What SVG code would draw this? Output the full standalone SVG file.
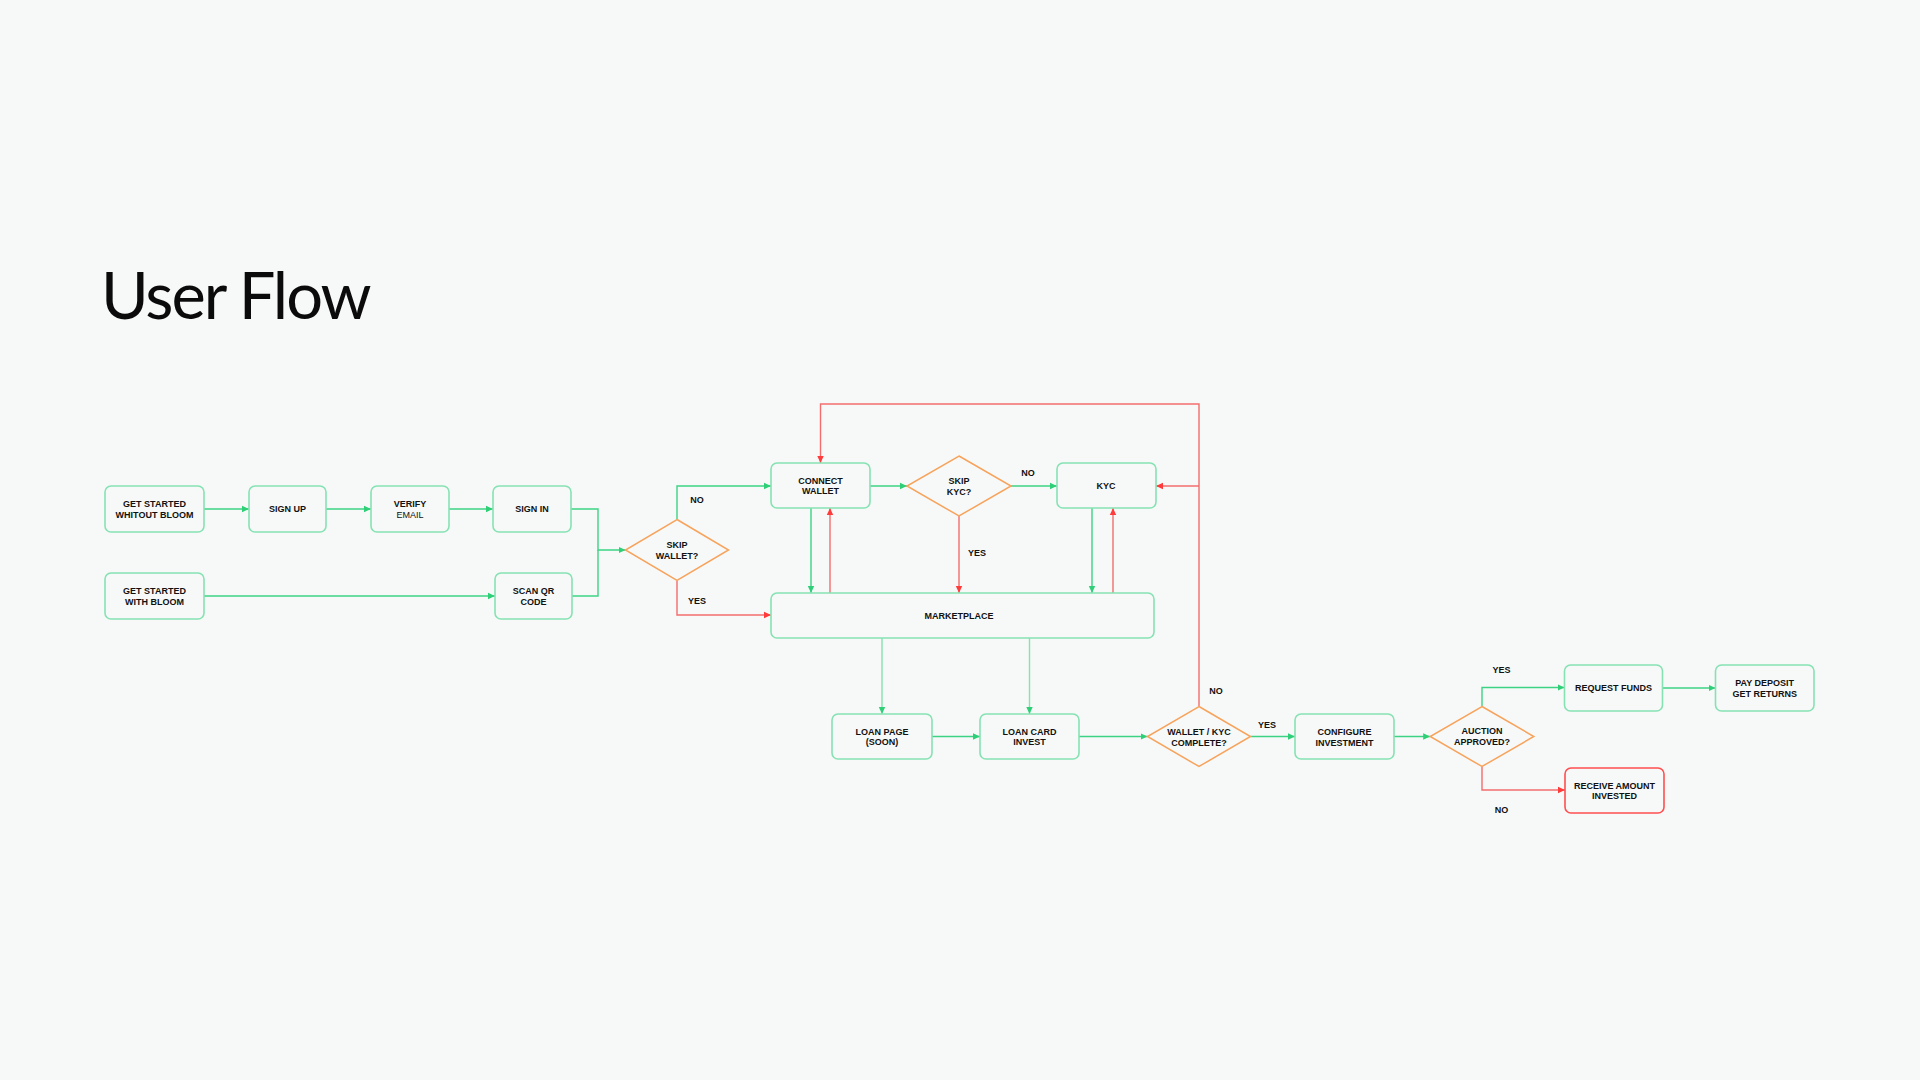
<svg xmlns="http://www.w3.org/2000/svg" width="1920" height="1080" viewBox="0 0 1920 1080">
<defs>
<style>
.bg{fill:#f7f9f8}
.node rect{fill:#f7f9f8;stroke:#86e2b3;stroke-width:1.6}
.node.red rect{stroke:#ff4f4f}
.dia polygon{fill:#f7f9f8;stroke:#f8a35c;stroke-width:1.5}
.t{font-family:"Liberation Sans",Arial,sans-serif;font-weight:bold;font-size:9px;fill:#111;text-anchor:middle}
.tn{font-weight:normal}
.lbl{font-family:"Liberation Sans",Arial,sans-serif;font-weight:bold;font-size:9px;fill:#111;text-anchor:middle}
.g{fill:none;stroke:#3dd384;stroke-width:1.4}
.gl{fill:none;stroke:#86e2b3;stroke-width:1.4}
.r{fill:none;stroke:#f36d6d;stroke-width:1.4}
.title{font-family:Lato,"Open Sans",sans-serif;font-size:65px;letter-spacing:-2px;fill:#0b0b0b}
</style>
<marker id="ag" markerUnits="userSpaceOnUse" markerWidth="8" markerHeight="8" refX="7" refY="4" orient="auto"><path d="M0,0.8 L7,4 L0,7.2 Z" fill="#2fcf78"/></marker>
<marker id="ar" markerUnits="userSpaceOnUse" markerWidth="8" markerHeight="8" refX="7" refY="4" orient="auto"><path d="M0,0.8 L7,4 L0,7.2 Z" fill="#ff3b3b"/></marker>
</defs>
<rect class="bg" x="0" y="0" width="1920" height="1080"/>
<text class="title" x="101" y="319">User Flow</text>

<g id="connectors">
<path class="g" d="M204 509 H249" marker-end="url(#ag)"/>
<path class="g" d="M326 509 H371" marker-end="url(#ag)"/>
<path class="g" d="M449 509 H493" marker-end="url(#ag)"/>
<path class="g" d="M204 596 H495" marker-end="url(#ag)"/>
<path class="g" d="M571 509 H598 V550 H625.5" marker-end="url(#ag)"/>
<path class="g" d="M572 596 H598 V550"/>
<path class="g" d="M677 519.5 V486 H771" marker-end="url(#ag)"/>
<path class="r" d="M677 580.5 V615 H771" marker-end="url(#ar)"/>
<path class="g" d="M870 486 H907" marker-end="url(#ag)"/>
<path class="g" d="M1011 486 H1057" marker-end="url(#ag)"/>
<path class="r" d="M959 516 V593" marker-end="url(#ar)"/>
<path class="g" d="M811 508 V593" marker-end="url(#ag)"/>
<path class="r" d="M830 593 V508" marker-end="url(#ar)"/>
<path class="g" d="M1092 508 V593" marker-end="url(#ag)"/>
<path class="r" d="M1113 593 V508" marker-end="url(#ar)"/>
<path class="gl" d="M882 638 V714" marker-end="url(#ag)"/>
<path class="gl" d="M1029.5 638 V714" marker-end="url(#ag)"/>
<path class="g" d="M932 736.5 H980" marker-end="url(#ag)"/>
<path class="g" d="M1079 736.5 H1147.5" marker-end="url(#ag)"/>
<path class="r" d="M1199 706.5 V404 H820.5 V463" marker-end="url(#ar)"/>
<path class="r" d="M1199 486 H1156" marker-end="url(#ar)"/>
<path class="g" d="M1250.5 736.5 H1295" marker-end="url(#ag)"/>
<path class="g" d="M1394 736.5 H1430.2" marker-end="url(#ag)"/>
<path class="g" d="M1482 706.5 V687.5 H1564.5" marker-end="url(#ag)"/>
<path class="r" d="M1482 766.5 V790 H1565" marker-end="url(#ar)"/>
<path class="g" d="M1662.5 688 H1715.5" marker-end="url(#ag)"/>
<text class="lbl" x="697" y="503">NO</text>
<text class="lbl" x="697" y="604">YES</text>
<text class="lbl" x="1028" y="476">NO</text>
<text class="lbl" x="977" y="556">YES</text>
<text class="lbl" x="1216" y="694">NO</text>
<text class="lbl" x="1267" y="728">YES</text>
<text class="lbl" x="1501.5" y="673">YES</text>
<text class="lbl" x="1501.5" y="813">NO</text>
</g>

<g id="n-get-started-whitout" class="node"><rect x="105" y="486" width="99" height="46" rx="6"/><text class="t" x="154.5" y="507">GET STARTED</text><text class="t" x="154.5" y="517.5">WHITOUT BLOOM</text></g>
<g id="n-sign-up" class="node"><rect x="249" y="486" width="77" height="46" rx="6"/><text class="t" x="287.5" y="512">SIGN UP</text></g>
<g id="n-verify-email" class="node"><rect x="371" y="486" width="78" height="46" rx="6"/><text class="t" x="410" y="507">VERIFY</text><text class="t tn" x="410" y="517.5">EMAIL</text></g>
<g id="n-sign-in" class="node"><rect x="493" y="486" width="78" height="46" rx="6"/><text class="t" x="532" y="512">SIGN IN</text></g>
<g id="n-get-started-with" class="node"><rect x="105" y="573" width="99" height="46" rx="6"/><text class="t" x="154.5" y="594">GET STARTED</text><text class="t" x="154.5" y="604.5">WITH BLOOM</text></g>
<g id="n-scan-qr" class="node"><rect x="495" y="573" width="77" height="46" rx="6"/><text class="t" x="533.5" y="594">SCAN QR</text><text class="t" x="533.5" y="604.5">CODE</text></g>
<g id="d-skip-wallet" class="dia"><polygon points="677,519.5 728.5,550 677,580.5 625.5,550"/><text class="t" x="677" y="548">SKIP</text><text class="t" x="677" y="558.5">WALLET?</text></g>
<g id="n-connect-wallet" class="node"><rect x="771" y="463" width="99" height="45" rx="6"/><text class="t" x="820.5" y="483.5">CONNECT</text><text class="t" x="820.5" y="494">WALLET</text></g>
<g id="d-skip-kyc" class="dia"><polygon points="959,456 1011,486 959,516 907,486"/><text class="t" x="959" y="484">SKIP</text><text class="t" x="959" y="494.5">KYC?</text></g>
<g id="n-kyc" class="node"><rect x="1057" y="463" width="99" height="45" rx="6"/><text class="t" x="1106" y="489">KYC</text></g>
<g id="n-marketplace" class="node"><rect x="771" y="593" width="383" height="45" rx="6"/><text class="t" x="959" y="619">MARKETPLACE</text></g>
<g id="n-loan-page" class="node"><rect x="832" y="714" width="100" height="45" rx="6"/><text class="t" x="882" y="734.5">LOAN PAGE</text><text class="t" x="882" y="745">(SOON)</text></g>
<g id="n-loan-card" class="node"><rect x="980" y="714" width="99" height="45" rx="6"/><text class="t" x="1029.5" y="734.5">LOAN CARD</text><text class="t" x="1029.5" y="745">INVEST</text></g>
<g id="d-wallet-kyc" class="dia"><polygon points="1199,706.5 1250.5,736.5 1199,766.5 1147.5,736.5"/><text class="t" x="1199" y="735">WALLET / KYC</text><text class="t" x="1199" y="745.5">COMPLETE?</text></g>
<g id="n-configure" class="node"><rect x="1295" y="714" width="99" height="45" rx="6"/><text class="t" x="1344.5" y="735">CONFIGURE</text><text class="t" x="1344.5" y="745.5">INVESTMENT</text></g>
<g id="d-auction" class="dia"><polygon points="1482,706.5 1533.8,736.5 1482,766.5 1430.2,736.5"/><text class="t" x="1482" y="734">AUCTION</text><text class="t" x="1482" y="744.5">APPROVED?</text></g>
<g id="n-request-funds" class="node"><rect x="1564.5" y="665" width="98" height="46" rx="6"/><text class="t" x="1613.5" y="691">REQUEST FUNDS</text></g>
<g id="n-pay-deposit" class="node"><rect x="1715.5" y="665" width="98.5" height="46" rx="6"/><text class="t" x="1764.7" y="686">PAY DEPOSIT</text><text class="t" x="1764.7" y="696.5">GET RETURNS</text></g>
<g id="n-receive-amount" class="node red"><rect x="1565" y="768" width="99" height="45" rx="6"/><text class="t" x="1614.5" y="788.5">RECEIVE AMOUNT</text><text class="t" x="1614.5" y="799">INVESTED</text></g>
</svg>
